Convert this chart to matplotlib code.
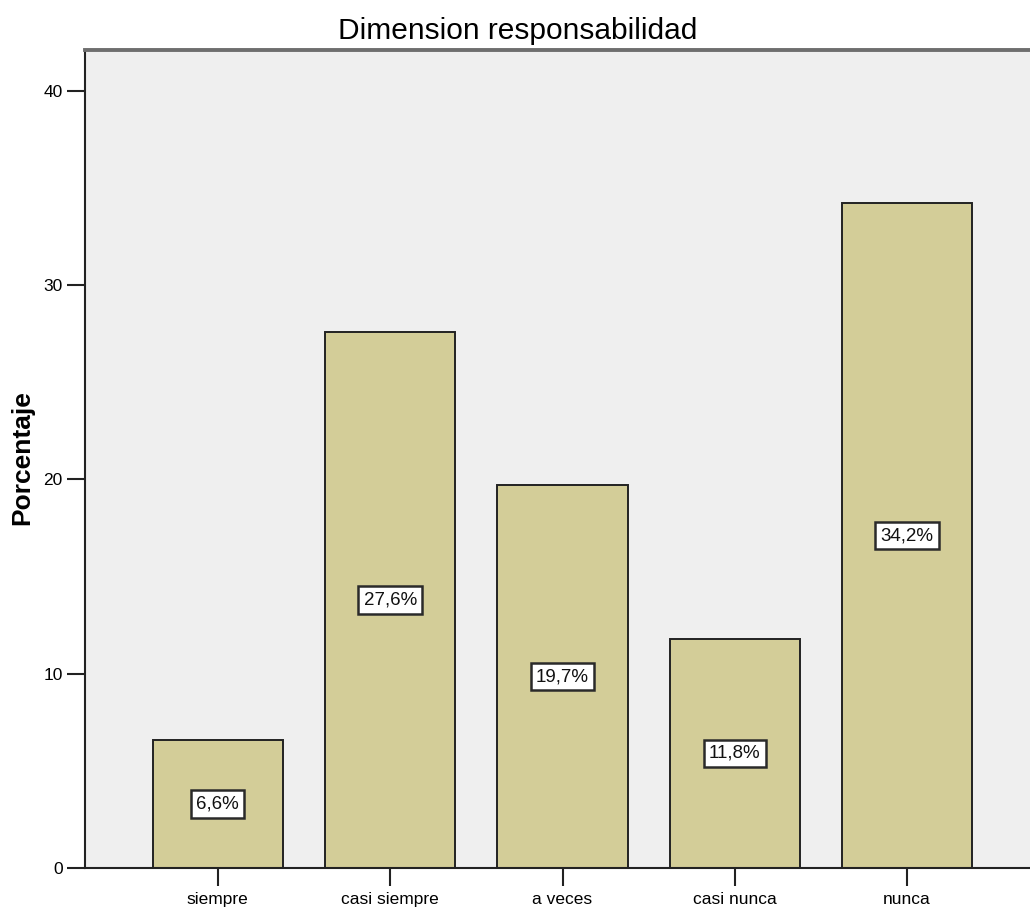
import matplotlib
matplotlib.use("Agg")
import matplotlib.pyplot as plt

categories = ["siempre", "casi siempre", "a veces", "casi nunca", "nunca"]
percentages = [6.6, 27.6, 19.7, 11.8, 34.2]
y_ticks = [0, 10, 20, 30, 40]

plt.rcParams["font.family"] = ["Liberation Sans", "DejaVu Sans"]

fig = plt.figure(figsize=(10.30, 9.08), dpi=100)
W, H = 1030, 908
left, right, top, bottom = 85, 1040, 50, 868
ax = fig.add_axes([left / W, 1 - bottom / H, (right - left) / W, (bottom - top) / H])
ax.set_facecolor("#efefef")

x = range(len(categories))
ax.bar(x, percentages, width=0.755, color="#d3cd98", edgecolor="#222222",
       linewidth=1.4, zorder=2)

for xi, v in zip(x, percentages):
    ax.text(xi, v / 2, f"{v:.1f}%".replace(".", ","), ha="center", va="center",
            fontsize=13.5, color="#111111", zorder=3,
            bbox=dict(boxstyle="square,pad=0.28", facecolor="white",
                      edgecolor="#2a2a2a", linewidth=1.8))

ax.set_xlim(-0.771, 4.771)
ax.set_ylim(0, 42.1)
ax.set_xticks(list(x))
ax.set_xticklabels(categories, fontsize=12.5)
ax.set_yticks(y_ticks)
ax.set_yticklabels([str(t) for t in y_ticks], fontsize=12.5)
ax.tick_params(axis="both", direction="out", length=13, width=1.5, color="#222222")
ax.tick_params(axis="x", pad=4)
ax.tick_params(axis="y", pad=3)

for s in ("left", "bottom"):
    ax.spines[s].set_color("#222222")
    ax.spines[s].set_linewidth(1.5)
ax.spines["top"].set_color("#6e6e6e")
ax.spines["top"].set_linewidth(2.8)
ax.spines["right"].set_visible(False)

fig.text(22 / W, 1 - 458 / H, "Porcentaje", rotation=90, ha="center", va="center",
         fontsize=19, fontweight="bold")
fig.text(518 / W, 1 - 31 / H, "Dimension responsabilidad", ha="center", va="center",
         fontsize=21.5)

fig.savefig("out.png", dpi=100, facecolor="white")
